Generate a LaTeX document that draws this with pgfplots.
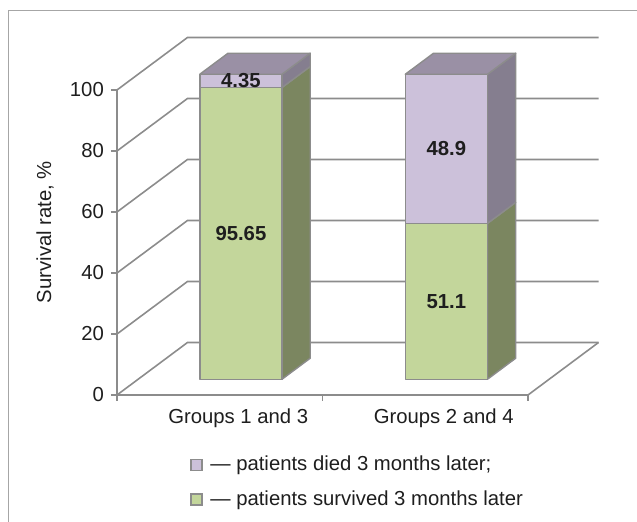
\documentclass[border=0pt]{standalone}
\usepackage{fontspec}
\setmainfont{Liberation Sans}
\usepackage{pgfplots}
\pgfplotsset{compat=1.18}

\definecolor{greenF}{HTML}{C3D69B}
\definecolor{greenS}{HTML}{7B8660}
\definecolor{purpleF}{HTML}{CCC1DA}
\definecolor{purpleS}{HTML}{857E8F}
\definecolor{purpleT}{HTML}{9A90A5}
\definecolor{edgegray}{HTML}{8C8C8C}
\definecolor{gridgray}{HTML}{8C8C8C}
\definecolor{framegray}{HTML}{A6A6A6}
\definecolor{textc}{HTML}{1E1E1E}

\tikzset{
  face/.style={draw=edgegray, line width=0.7pt, line join=round},
  gridline/.style={draw=gridgray, line width=0.8pt},
}

\begin{document}
\fontsize{10.15pt}{12pt}\selectfont
\color{textc}
\begin{tikzpicture}
% outer frame (runs off the page on the right and at the bottom)
\draw[framegray, line width=0.75pt] (4.25pt,-275pt) -- (4.25pt,-5.35pt) -- (330pt,-5.35pt);

% 3D part: walls, floor and the stacked boxes (oblique projection)
\begin{axis}[
  at={(58.5pt,-197.5pt)}, anchor=south west,
  x={(102.75pt,0pt)}, y={(35.25pt,26.25pt)}, z={(0pt,1.525pt)},
  xmin=0, xmax=2, ymin=0, ymax=1, zmin=0, zmax=100,
  hide axis, clip=false,
]
\pgfplotsinvokeforeach{0,20,40,60,80,100}{
  \draw[gridline] (0,0,#1) -- (0,1,#1) -- (2,1,#1);
}
\draw[gridline] (2,0,0) -- (2,1,0);

% Groups 1 and 3: survived 95.65, died 4.35
\addplot3[face, fill=greenS] coordinates {(0.7,0.3,0) (0.7,0.7,0) (0.7,0.7,95.65) (0.7,0.3,95.65)} -- cycle;
\addplot3[face, fill=purpleS] coordinates {(0.7,0.3,95.65) (0.7,0.7,95.65) (0.7,0.7,100) (0.7,0.3,100)} -- cycle;
\addplot3[face, fill=purpleT] coordinates {(0.3,0.3,100) (0.7,0.3,100) (0.7,0.7,100) (0.3,0.7,100)} -- cycle;
\addplot3[face, fill=greenF] coordinates {(0.3,0.3,0) (0.7,0.3,0) (0.7,0.3,95.65) (0.3,0.3,95.65)} -- cycle;
\addplot3[face, fill=purpleF] coordinates {(0.3,0.3,95.65) (0.7,0.3,95.65) (0.7,0.3,100) (0.3,0.3,100)} -- cycle;

% Groups 2 and 4: survived 51.1, died 48.9
\addplot3[face, fill=greenS] coordinates {(1.7,0.3,0) (1.7,0.7,0) (1.7,0.7,51.1) (1.7,0.3,51.1)} -- cycle;
\addplot3[face, fill=purpleS] coordinates {(1.7,0.3,51.1) (1.7,0.7,51.1) (1.7,0.7,100) (1.7,0.3,100)} -- cycle;
\addplot3[face, fill=purpleT] coordinates {(1.3,0.3,100) (1.7,0.3,100) (1.7,0.7,100) (1.3,0.7,100)} -- cycle;
\addplot3[face, fill=greenF] coordinates {(1.3,0.3,0) (1.7,0.3,0) (1.7,0.3,51.1) (1.3,0.3,51.1)} -- cycle;
\addplot3[face, fill=purpleF] coordinates {(1.3,0.3,51.1) (1.7,0.3,51.1) (1.7,0.3,100) (1.3,0.3,100)} -- cycle;

% value labels in the middle of each front face
\node[font=\bfseries] at (0.5,0.3,47.825) {95.65};
\node[font=\bfseries] at (0.5,0.3,97.825) {4.35};
\node[font=\bfseries] at (1.5,0.3,25.55) {51.1};
\node[font=\bfseries] at (1.5,0.3,75.55) {48.9};
\end{axis}

% front plane: axis lines, ticks, labels and legend
\begin{axis}[
  at={(58.5pt,-197.5pt)}, anchor=south west,
  x={(102.75pt,0pt)}, y={(0pt,1.525pt)},
  xmin=0, xmax=2, ymin=0, ymax=100,
  axis x line*=bottom, axis y line*=left,
  axis line style={draw=gridgray, line width=0.8pt},
  tick align=outside, major tick length=3pt,
  tick style={draw=gridgray, line width=0.8pt},
  xtick={0,1,2}, xticklabels={},
  extra x ticks={0.59,1.59},
  extra x tick labels={Groups 1 and 3,Groups 2 and 4},
  extra x tick style={major tick length=0pt},
  xticklabel style={yshift=-3.5pt},
  ytick={0,20,40,60,80,100},
  /pgf/number format/assume math mode=true,
  ylabel={Survival rate, \%},
  every axis y label/.style={at={(axis description cs:0,0.534)}, xshift=-36pt, rotate=90, anchor=center},
  legend image code/.code={\draw[#1, line width=0.6pt] (0pt,-2.75pt) rectangle (5.5pt,2.75pt); \path (7.5pt,0pt);},
  legend style={at={(axis cs:0.355,-18.5)}, anchor=north west, draw=none, fill=none, inner sep=0pt, row sep=4.5pt},
  legend cell align=left,
]
\addlegendimage{fill=purpleF, draw=edgegray}
\addlegendentry{— patients died 3 months later;}
\addlegendimage{fill=greenF, draw=edgegray}
\addlegendentry{— patients survived 3 months later}
\end{axis}

\pgfresetboundingbox
\useasboundingbox (0pt,0pt) rectangle (318.5pt,-261pt);
\end{tikzpicture}
\end{document}
